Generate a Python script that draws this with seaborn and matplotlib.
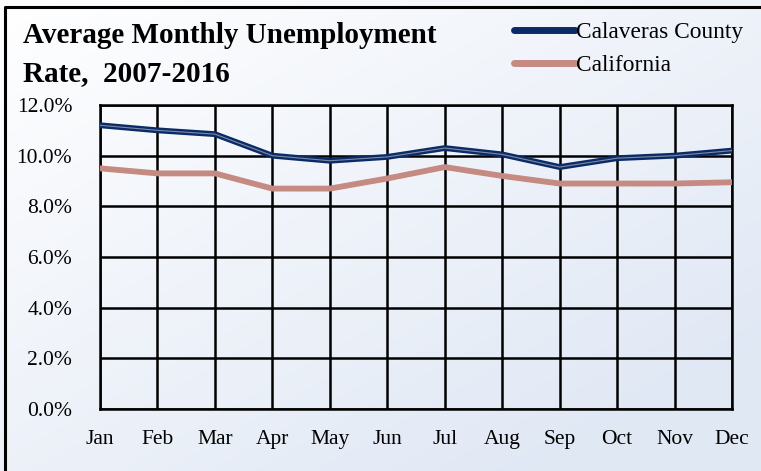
import numpy as np
import pandas as pd
import matplotlib
matplotlib.use('Agg')
import matplotlib.pyplot as plt
import seaborn as sns

months = ['Jan', 'Feb', 'Mar', 'Apr', 'May', 'Jun', 'Jul', 'Aug', 'Sep', 'Oct', 'Nov', 'Dec']
calaveras = [11.2, 11.0, 10.85, 10.0, 9.8, 9.95, 10.3, 10.05, 9.55, 9.9, 10.0, 10.2]
california = [9.5, 9.3, 9.3, 8.7, 8.7, 9.1, 9.55, 9.2, 8.9, 8.9, 8.9, 8.95]
series_names = ['Calaveras County', 'California']
yticks = [0, 2, 4, 6, 8, 10, 12]

df = pd.DataFrame({
    'month': months * 2,
    'rate': calaveras + california,
    'series': [series_names[0]] * 12 + [series_names[1]] * 12,
})

sns.set_theme(style='white')
plt.rcParams['font.family'] = ['Liberation Serif', 'DejaVu Serif']
plt.rcParams['text.color'] = 'black'

fig = plt.figure(figsize=(7.61, 4.71), dpi=100)

# фон с градиентом
bg = fig.add_axes([0, 0, 1, 1], zorder=-2)
gx, gy = np.meshgrid(np.linspace(0, 1, 200), np.linspace(0, 1, 200))
g = np.clip(0.55 * gx + 0.6 * gy, 0, 1)
c0 = np.array([1.0, 1.0, 1.0])
c1 = np.array([0.88, 0.91, 0.96])
img = c0[None, None, :] * (1 - g[..., None]) + c1[None, None, :] * g[..., None]
bg.imshow(img, aspect='auto', extent=[0, 1, 0, 1], origin='upper')
bg.plot([5 / 761, 5 / 761, 1.01], [-0.01, 1 - 7 / 471, 1 - 7 / 471], color='black', lw=2.2)
bg.set_xlim(0, 1)
bg.set_ylim(0, 1)
bg.axis('off')

ax = fig.add_axes([100 / 761, 1 - 409 / 471, 632 / 761, 304 / 471])
ax.set_facecolor('none')

palette = {series_names[0]: '#0b2b66', series_names[1]: '#c58a82'}
sns.lineplot(data=df, x='month', y='rate', hue='series', palette=palette,
             linewidth=4.2, ax=ax, legend=False, zorder=3)
# светлая полоса внутри синей линии
sns.lineplot(x=months, y=calaveras, color='#7f8aa6', linewidth=0.8, ax=ax, legend=False, zorder=4)

ax.set_xlim(0, 11)
ax.set_ylim(0, 12)
ax.set_yticks(yticks)
ax.set_yticklabels([f'{v:.1f}%' for v in yticks])
ax.set_xticks(range(12))
ax.set_xticklabels(months)
ax.set_xlabel('')
ax.set_ylabel('')
ax.grid(True, color='black', linewidth=1.8, zorder=1)
ax.set_axisbelow(True)
for s in ax.spines.values():
    s.set_color('black')
    s.set_linewidth(1.8)
ax.tick_params(axis='both', which='major', labelsize=15.5, colors='black',
               length=6, width=1.8, direction='out')
ax.tick_params(axis='x', pad=9)
ax.tick_params(axis='y', pad=14)

fig.text(23 / 761, 1 - 43 / 471, 'Average Monthly Unemployment', fontsize=21,
         fontweight='bold', ha='left', va='baseline')
fig.text(23 / 761, 1 - 81 / 471, 'Rate,  2007-2016', fontsize=21,
         fontweight='bold', ha='left', va='baseline')

handles = [plt.Line2D([], [], color=palette[n], lw=5, solid_capstyle='round') for n in series_names]
fig.legend(handles, series_names, loc='upper left', bbox_to_anchor=(514 / 761, 1 - 22 / 471),
           frameon=False, fontsize=16.8, handlelength=2.6, handletextpad=0.05,
           labelspacing=0.5, borderaxespad=0, borderpad=0)

fig.savefig('out.png', dpi=100)
